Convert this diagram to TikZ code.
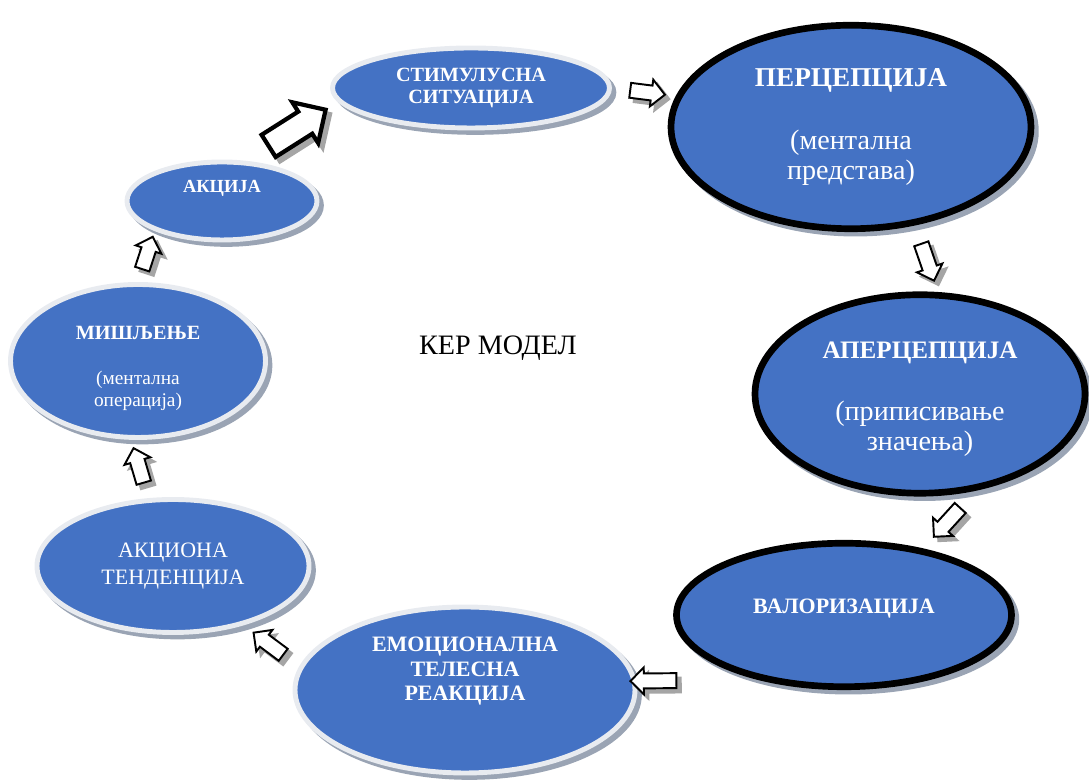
\documentclass[tikz,border=0pt]{standalone}
\usepackage{fontspec}
\setmainfont{Liberation Serif}
\usetikzlibrary{shapes.geometric,shapes.arrows,shadows}
\definecolor{kerblue}{HTML}{4472C4}
\definecolor{ringgray}{HTML}{E8EBF0}
\definecolor{shadowgray}{HTML}{9AA4B4}
\definecolor{arrowshade}{HTML}{A5A5A5}

% block arrow between two border points, with its grey shadow
\newcommand{\blockarrow}[3][]{%
  \path ([shift={(2.5pt,-2.5pt)}]#2) -- ([shift={(2.5pt,-2.5pt)}]#3)
    node[midway,sloped,allow upside down,arrowbody,#1,draw=arrowshade,fill=arrowshade] {};
  \path (#2) -- (#3)
    node[midway,sloped,allow upside down,arrowbody,#1] {};}

\begin{document}
\begin{tikzpicture}[
      stage/.style={ellipse,fill=kerblue,text=white,align=center,inner sep=0pt,
        drop shadow={shadow xshift=2.5pt,shadow yshift=-2.5pt,fill=shadowgray,draw=shadowgray,opacity=1}},
      softstage/.style={stage,draw=ringgray,line width=2.8pt},
      hardstage/.style={stage,draw=black,line width=3.8pt},
      arrowbody/.style={single arrow,draw=black,fill=white,line width=1.1pt,
        minimum height=0.78cm,single arrow head extend=0.12cm,inner sep=0.13cm},
      bigarrow/.style={line width=2.4pt,minimum height=1.35cm,
        single arrow head extend=0.22cm,inner sep=0.22cm}
    ]
    \useasboundingbox (0,0) rectangle (21.78,15.6);

    \node[softstage,minimum width=5.54cm,minimum height=1.6cm,
      font=\fontsize{11.5}{13}\selectfont\bfseries] (stim) at (9.42,13.84) {СТИМУЛУСНА\\СИТУАЦИЈА};
    \node[hardstage,minimum width=7.2cm,minimum height=4.07cm,
      font=\fontsize{16}{17}\selectfont] (perc) at (17.02,13.06)
      {{\bfseries\fontsize{15.5}{17}\selectfont ПЕРЦЕПЦИЈА}\\[19pt](ментална\\представа)};
    \node[hardstage,minimum width=6.6cm,minimum height=3.97cm,
      font=\fontsize{16}{17}\selectfont] (aperc) at (18.40,7.72)
      {{\bfseries\fontsize{14.3}{17}\selectfont\rule{0pt}{15.5pt}АПЕРЦЕПЦИЈА}\\[18pt](приписивање\\значења)};
    \node[hardstage,minimum width=6.7cm,minimum height=2.87cm,
      font=\fontsize{12.5}{14}\selectfont\bfseries] (valor) at (16.88,3.30) {ВАЛОРИЗАЦИЈА\\[-4pt]\mbox{}};
    \node[softstage,minimum width=6.8cm,minimum height=3.32cm,
      font=\fontsize{12.5}{14}\selectfont\bfseries] (emoc) at (9.30,1.80)
      {ЕМОЦИОНАЛНА\\ТЕЛЕСНА\\РЕАКЦИЈА\\[10pt]\mbox{}};
    \node[softstage,minimum width=5.44cm,minimum height=2.66cm,
      font=\fontsize{12.5}{15}\selectfont] (tend) at (3.46,4.28) {АКЦИОНА\\ТЕНДЕНЦИЈА};
    \node[softstage,minimum width=5.1cm,minimum height=3.06cm,
      font=\fontsize{11}{12.5}\selectfont] (misl) at (2.76,8.38)
      {{\bfseries\fontsize{11.5}{12.5}\selectfont\rule{0pt}{16pt}МИШЉЕЊЕ}\\[13.5pt](ментална\\операција)};
    \node[softstage,minimum width=3.8cm,minimum height=1.56cm,
      font=\fontsize{10.5}{12.5}\selectfont\bfseries] (akc) at (4.44,11.58) {АКЦИЈА\\[4.5pt]\mbox{}};

    \node[font=\fontsize{16}{18}\selectfont] (title) at (9.96,8.64) {КЕР МОДЕЛ};

    \blockarrow[bigarrow]{akc.60}{stim.186}
    \blockarrow[minimum height=0.7cm]{stim.east}{perc.170}
    \blockarrow{perc.-57}{aperc.80}
    \blockarrow{aperc.-60}{valor.40}
    \blockarrow[pos=0.83,minimum height=0.92cm]{valor.217}{emoc.3}
    \blockarrow[minimum height=0.74cm]{emoc.172}{tend.-40}
    \blockarrow[minimum height=0.72cm]{tend.110}{misl.-95}
    \blockarrow[minimum height=0.68cm]{misl.90}{akc.-156}
  \end{tikzpicture}
\end{document}
